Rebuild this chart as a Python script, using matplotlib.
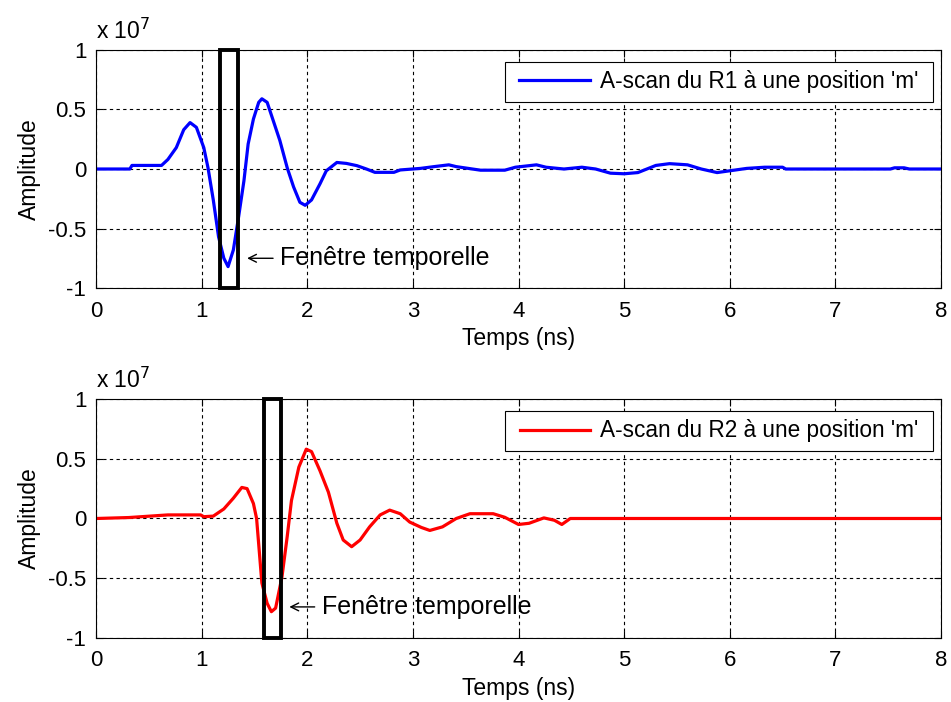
import matplotlib
matplotlib.use("Agg")
import matplotlib.pyplot as plt
from matplotlib.patches import Rectangle
import numpy as np

plt.rcParams['font.family'] = ['Liberation Sans', 'DejaVu Sans']

# Amplitudes in units of 1e7
t1 = [0.0, 0.32, 0.34, 0.62, 0.68, 0.76, 0.83, 0.89, 0.95, 1.02, 1.06, 1.11, 1.16, 1.21,
      1.25, 1.30, 1.35, 1.40, 1.44, 1.49, 1.54, 1.57, 1.62, 1.68, 1.74, 1.81, 1.87, 1.93,
      1.98, 2.04, 2.12, 2.18, 2.28, 2.37, 2.47, 2.56, 2.64, 2.82, 2.88, 3.07, 3.20, 3.34,
      3.41, 3.64, 3.87, 3.97, 4.17, 4.26, 4.43, 4.60, 4.73, 4.87, 5.00, 5.13, 5.30, 5.43,
      5.60, 5.73, 5.88, 6.00, 6.16, 6.33, 6.50, 6.53, 7.52, 7.56, 7.65, 7.70, 8.0]
a1 = [0.0, 0.0, 0.03, 0.03, 0.08, 0.18, 0.33, 0.39, 0.35, 0.18, 0.01, -0.26, -0.57, -0.75,
      -0.82, -0.68, -0.40, -0.10, 0.21, 0.42, 0.56, 0.59, 0.56, 0.40, 0.24, 0.01, -0.15, -0.28,
      -0.305, -0.26, -0.125, -0.015, 0.055, 0.047, 0.028, 0.0, -0.028, -0.028, -0.008, 0.005, 0.02, 0.035,
      0.02, -0.01, -0.01, 0.015, 0.035, 0.015, 0.0, 0.015, 0.0, -0.035, -0.04, -0.03, 0.03, 0.045,
      0.035, 0.0, -0.03, -0.015, 0.005, 0.015, 0.015, 0.0, 0.0, 0.01, 0.01, 0.0, 0.0]

t2 = [0.0, 0.31, 0.68, 0.99, 1.02, 1.11, 1.21, 1.30, 1.38, 1.43, 1.49, 1.52, 1.57, 1.62,
      1.66, 1.70, 1.76, 1.81, 1.85, 1.92, 1.99, 2.04, 2.12, 2.20, 2.28, 2.34, 2.42, 2.50,
      2.59, 2.69, 2.78, 2.88, 2.97, 3.08, 3.16, 3.28, 3.41, 3.54, 3.76, 3.87, 4.00, 4.10,
      4.24, 4.34, 4.41, 4.49, 8.0]
a2 = [0.0, 0.008, 0.03, 0.03, 0.015, 0.02, 0.08, 0.17, 0.26, 0.25, 0.125, 0.0, -0.54, -0.71,
      -0.78, -0.75, -0.49, -0.15, 0.15, 0.43, 0.58, 0.56, 0.40, 0.22, -0.04, -0.18, -0.236, -0.18,
      -0.07, 0.03, 0.07, 0.04, -0.03, -0.075, -0.10, -0.07, 0.0, 0.04, 0.04, 0.01, -0.05, -0.04,
      0.005, -0.015, -0.05, 0.0, 0.0]

windows = [(1.17, 1.34), (1.59, 1.75)]
labels = ["A-scan du R1 à une position 'm'", "A-scan du R2 à une position 'm'"]
colors = ["#0000ff", "#ff0000"]
# (arrow head x, arrow tail x, text start x, y)
annots = [(1.43, 1.676, 1.742, -0.75), (1.83, 2.07, 2.14, -0.74)]
xticks = [0, 1, 2, 3, 4, 5, 6, 7, 8]
yticks = [-1, -0.5, 0, 0.5, 1]
ytick_labels = ["-1", "-0.5", "0", "0.5", "1"]

fig = plt.figure(figsize=(9.51, 7.02), dpi=100)
axes_rects = [[0.101, 0.5897, 0.8885, 0.3391], [0.101, 0.0912, 0.8885, 0.3404]]
data = [(t1, a1), (t2, a2)]
legends = []

for i in range(2):
    ax = fig.add_axes(axes_rects[i])
    t, a = data[i]
    ax.plot(t, a, color=colors[i], lw=2.3, label=labels[i], solid_joinstyle='round')
    ax.set_xlim(0, 8)
    ax.set_ylim(-1, 1)
    ax.set_xticks(xticks)
    ax.set_xticklabels([str(x) for x in xticks])
    ax.set_yticks(yticks)
    ax.set_yticklabels(ytick_labels)
    ax.grid(True, color='black', linestyle=(0, (3, 3)), linewidth=0.8)
    ax.tick_params(direction='in', top=True, right=True, labelsize=16, length=5)
    ax.tick_params(axis='x', pad=9)
    ax.tick_params(axis='y', pad=7)
    for s in ax.spines.values():
        s.set_linewidth(0.8)
    ax.set_xlabel("Temps (ns)", fontsize=16.5, labelpad=4)
    ax.set_ylabel("Amplitude", fontsize=16.5, labelpad=5)
    x0, x1 = windows[i]
    ax.add_patch(Rectangle((x0, -1), x1 - x0, 2, fill=False, edgecolor='black', lw=2.8, clip_on=False, zorder=5))
    hx, tx, txx, yy = annots[i]
    ax.annotate("", xy=(hx, yy), xytext=(tx, yy),
                arrowprops=dict(arrowstyle='->', color='black', lw=1.0, shrinkA=0, shrinkB=0,
                                mutation_scale=14))
    ax.text(txx, yy, "Fenêtre temporelle", fontsize=18, va='center', ha='left')
    ax.text(0.0, 1.025, r"x 10$^{7}$", transform=ax.transAxes, fontsize=16.5, va='bottom', ha='left')
    leg = ax.legend(loc='upper right', bbox_to_anchor=(0.981, 0.943), fontsize=16.3,
                    handlelength=3.1, frameon=False, borderaxespad=0,
                    borderpad=0.3, handletextpad=0.45)
    legends.append((ax, leg))

fig.canvas.draw()
for ax, leg in legends:
    bb = leg.get_window_extent()
    padx, pady = 8, 2
    fig.add_artist(Rectangle((bb.x0 - padx, bb.y0 - pady), bb.width + 2 * padx, bb.height + 2 * pady,
                             transform=None, fill=True, facecolor='white', edgecolor='black',
                             lw=0.8, zorder=leg.get_zorder() - 0.1))
    leg.remove()
    fig.add_artist(leg)
    leg.set_zorder(10)

fig.savefig("out.png", dpi=100)
